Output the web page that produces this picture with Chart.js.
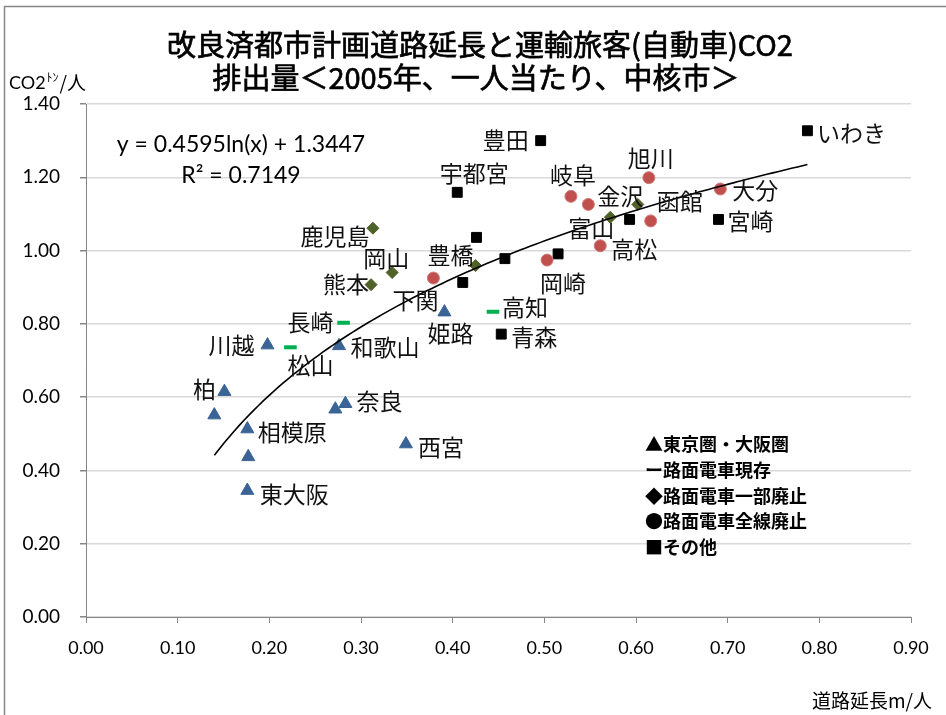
<!DOCTYPE html>
<html><head><meta charset="utf-8">
<script src="https://cdn.jsdelivr.net/npm/chart.js@4/dist/chart.umd.min.js"></script>
<style>html,body{margin:0;padding:0;background:#fff}#wrap{width:946px;height:715px}</style>
</head><body><div id="wrap"><canvas id="c" width="946" height="715"></canvas></div>
<script>
// ---- text ----
const titleLines = ['改良済都市計画道路延長と運輸旅客(自動車)CO2', '排出量＜2005年、一人当たり、中核市＞'];
const yAxisTitle = ['CO2', 'ﾄﾝ', '/人'];
const xAxisTitle = '道路延長m/人';
const equationText = 'y = 0.4595ln(x) + 1.3447';
const r2Text = 'R² = 0.7149';
const legendLines = ['▲東京圏・大阪圏', 'ー路面電車現存', '◆路面電車一部廃止', '●路面電車全線廃止', '■その他'];

// ---- ticks ----
const xTickValues = [0, 0.1, 0.2, 0.3, 0.4, 0.5, 0.6, 0.7, 0.8, 0.9];
const xTickLabels = ['0.00', '0.10', '0.20', '0.30', '0.40', '0.50', '0.60', '0.70', '0.80', '0.90'];
const yTickValues = [0, 0.2, 0.4, 0.6, 0.8, 1.0, 1.2, 1.4];
const yTickLabels = ['0.00', '0.20', '0.40', '0.60', '0.80', '1.00', '1.20', '1.40'];

// ---- series: 東京圏・大阪圏 ----
const tokyoOsakaNames = ['川越', '柏', '', '相模原', '', '東大阪', '和歌山', '', '奈良', '西宮', '姫路'];
const tokyoOsakaX = [0.198, 0.151, 0.140, 0.176, 0.177, 0.176, 0.276, 0.272, 0.283, 0.349, 0.391];
const tokyoOsakaY = [0.742, 0.615, 0.551, 0.513, 0.437, 0.345, 0.740, 0.567, 0.582, 0.472, 0.832];

// ---- series: 路面電車現存 ----
const tramNames = ['長崎', '松山', '高知'];
const tramX = [0.281, 0.223, 0.444];
const tramY = [0.803, 0.736, 0.833];

// ---- series: 路面電車一部廃止 ----
const partialNames = ['鹿児島', '岡山', '熊本', '豊橋', '富山', '函館'];
const partialX = [0.313, 0.334, 0.311, 0.425, 0.572, 0.602];
const partialY = [1.061, 0.940, 0.907, 0.959, 1.091, 1.126];

// ---- series: 路面電車全線廃止 ----
const abolishedNames = ['下関', '岡崎', '岐阜', '金沢', '旭川', '', '高松', '大分'];
const abolishedX = [0.379, 0.503, 0.529, 0.548, 0.614, 0.616, 0.561, 0.692];
const abolishedY = [0.925, 0.974, 1.148, 1.126, 1.199, 1.081, 1.013, 1.168];

// ---- series: その他 ----
const otherNames = ['豊田', '宇都宮', '', '', '', '', '', '青森', '宮崎', 'いわき'];
const otherX = [0.496, 0.405, 0.426, 0.457, 0.515, 0.593, 0.411, 0.453, 0.690, 0.787];
const otherY = [1.300, 1.159, 1.036, 0.978, 0.991, 1.085, 0.913, 0.772, 1.085, 1.327];

// ---- log trendline coefficients (as printed on the chart) ----
const trendA = 0.4595;
const trendB = 1.3447;

// ---- label placement (pixel offsets from the point) ----
const labelOffsets = {
  '川越': [-36, 0], '柏': [-20, -2], '相模原': [45, 3], '東大阪': [47, 4], '和歌山': [46, 1],
  '奈良': [34, -2], '西宮': [35, 3], '姫路': [6, 21],
  '長崎': [-33, 0], '松山': [20, 18], '高知': [32, -4],
  '鹿児島': [-38, 8], '岡山': [-6, -14], '熊本': [-25, 0], '豊橋': [-25, -10], '富山': [-19, 11], '函館': [42, -3],
  '下関': [-18, 22], '岡崎': [16, 23], '岐阜': [2, -21], '金沢': [32, -8], '旭川': [2, -19], '高松': [34, 3], '大分': [35, 1],
  '豊田': [-35, 0], '宇都宮': [17, -19], '青森': [33, 3], '宮崎': [32, 2], 'いわき': [44, 3]
};

const CJK = '"Noto Sans CJK JP", "Noto Sans", sans-serif';
const LAT = 'Lato, "Open Sans", sans-serif';

function pts(xs, ys) { return xs.map((x, i) => ({ x: x, y: ys[i] })); }

const allX = [].concat(tokyoOsakaX, tramX, partialX, abolishedX, otherX);
const xMinData = Math.min.apply(null, allX);
const xMaxData = Math.max.apply(null, allX);
const trendPts = [];
const nSteps = 120;
for (let i = 0; i <= nSteps; i++) {
  const x = xMinData + (xMaxData - xMinData) * i / nSteps;
  trendPts.push({ x: x, y: trendA * Math.log(x) + trendB });
}

const seriesNames = [tokyoOsakaNames, tramNames, partialNames, abolishedNames, otherNames];

const decor = {
  id: 'decor',
  beforeDraw(chart) {
    const c = chart.ctx;
    c.save();
    c.fillStyle = '#fff';
    c.fillRect(0, 0, chart.width, chart.height);
    c.restore();
  },
  afterDatasetsDraw(chart) {
    const c = chart.ctx;
    c.save();
    c.font = '23px ' + CJK;
    c.fillStyle = '#111';
    c.textAlign = 'center';
    c.textBaseline = 'middle';
    seriesNames.forEach((names, di) => {
      const meta = chart.getDatasetMeta(di);
      names.forEach((nm, j) => {
        if (!nm) return;
        const el = meta.data[j];
        const off = labelOffsets[nm] || [0, 0];
        c.fillText(nm, el.x + off[0], el.y + off[1]);
      });
    });
    c.restore();
  },
  afterDraw(chart) {
    const c = chart.ctx;
    c.save();
    // frame
    c.strokeStyle = '#868686';
    c.lineWidth = 1.5;
    c.strokeRect(4.5, 6.5, 1000, 1000);
    // title
    c.fillStyle = '#000';
    c.strokeStyle = '#000';
    c.lineWidth = 0.7;
    c.textAlign = 'center';
    c.textBaseline = 'middle';
    c.font = '29px ' + CJK;
    c.fillText(titleLines[0], 480, 45);
    c.strokeText(titleLines[0], 480, 45);
    c.fillText(titleLines[1], 476, 78);
    c.strokeText(titleLines[1], 476, 78);
    // y axis title
    c.textAlign = 'left';
    c.textBaseline = 'alphabetic';
    let x = 9;
    c.font = '18px ' + LAT;
    c.fillText(yAxisTitle[0], x, 89);
    x += c.measureText(yAxisTitle[0]).width + 1;
    c.font = '12px ' + CJK;
    c.fillText(yAxisTitle[1], x, 82);
    x += c.measureText(yAxisTitle[1]).width + 1;
    c.font = '19px ' + CJK;
    c.fillText(yAxisTitle[2], x, 90);
    // x axis title
    c.textAlign = 'right';
    c.textBaseline = 'middle';
    c.font = '19px ' + CJK;
    c.fillText(xAxisTitle, 932, 701);
    // equation
    c.textAlign = 'center';
    c.font = '23px ' + LAT;
    c.fillText(equationText, 241, 145);
    c.fillText(r2Text, 241, 176);
    // legend text box
    c.textAlign = 'left';
    c.font = 'bold 18px ' + CJK;
    const ly = [444, 470.5, 496, 521.5, 547];
    legendLines.forEach((t, i) => c.fillText(t, 645, ly[i]));
    c.restore();
  }
};

new Chart(document.getElementById('c').getContext('2d'), {
  type: 'scatter',
  data: {
    datasets: [
      { label: '東京圏・大阪圏', data: pts(tokyoOsakaX, tokyoOsakaY), pointStyle: 'triangle', pointRadius: 7.5,
        backgroundColor: '#3A6396', borderColor: '#3A6396', borderWidth: 1, order: 1 },
      { label: '路面電車現存', data: pts(tramX, tramY), pointStyle: 'line', pointRadius: 6.3,
        backgroundColor: '#00B050', borderColor: '#00B050', borderWidth: 4, order: 1 },
      { label: '路面電車一部廃止', data: pts(partialX, partialY), pointStyle: 'rectRot', pointRadius: 6,
        backgroundColor: '#4F6228', borderColor: '#4F6228', borderWidth: 1, order: 1 },
      { label: '路面電車全線廃止', data: pts(abolishedX, abolishedY), pointStyle: 'circle', pointRadius: 6,
        backgroundColor: '#C0504D', borderColor: '#D07B78', borderWidth: 1, order: 1 },
      { label: 'その他', data: pts(otherX, otherY), pointStyle: 'rect', pointRadius: 7,
        backgroundColor: '#000', borderColor: '#000', borderWidth: 1, order: 1 },
      { type: 'line', label: 'trend', data: trendPts, borderColor: '#000', borderWidth: 1.6,
        pointRadius: 0, fill: false, tension: 0, showLine: true, order: 0 }
    ]
  },
  options: {
    responsive: false,
    animation: false,
    layout: { padding: { top: 104, right: 35, left: 0, bottom: 0 } },
    plugins: { legend: { display: false }, tooltip: { enabled: false }, title: { display: false } },
    scales: {
      x: {
        type: 'linear', min: 0, max: 0.9,
        afterBuildTicks: s => { s.ticks = xTickValues.map(v => ({ value: v })); },
        afterFit: s => { s.height = 98; },
        ticks: { callback: (v, i) => xTickLabels[i], font: { family: LAT, size: 18 }, color: '#000',
                 padding: 14, maxRotation: 0, autoSkip: false },
        grid: { drawOnChartArea: false, tickLength: 6, tickColor: '#868686' },
        border: { color: '#868686', width: 1 }
      },
      y: {
        type: 'linear', min: 0, max: 1.4,
        afterBuildTicks: s => { s.ticks = yTickValues.map(v => ({ value: v })); },
        afterFit: s => { s.width = 86; },
        ticks: { callback: (v, i) => yTickLabels[i], font: { family: LAT, size: 19 }, color: '#000',
                 padding: 20, autoSkip: false },
        grid: { color: '#D9D9D9', lineWidth: 1.5, tickLength: 6, tickColor: '#868686' },
        border: { color: '#868686', width: 1 }
      }
    }
  },
  plugins: [decor]
});
</script>
</body></html>
